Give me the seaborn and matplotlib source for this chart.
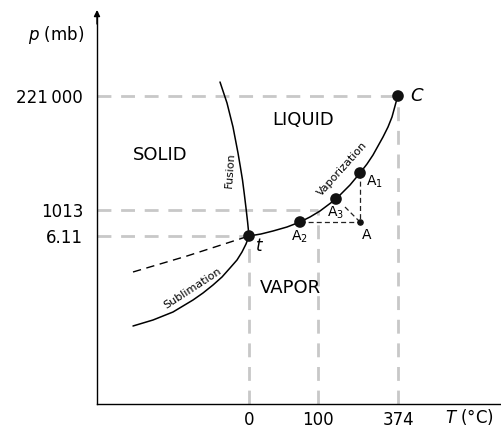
import matplotlib
matplotlib.use("Agg")
import matplotlib.pyplot as plt
import seaborn as sns
import pandas as pd

sns.set_style("white")
plt.rcParams['font.family'] = ['DejaVu Sans']
plt.rcParams['text.color'] = 'black'
plt.rcParams['xtick.color'] = 'black'
plt.rcParams['ytick.color'] = 'black'

# ---- schematic data (schematic units) ----
T_tick_pos = [152, 221, 301]
T_tick_labels = ["0", "100", "374"]
p_tick_pos = [168, 194, 308]
p_tick_labels = ["6.11", "1013", "221\u2009000"]

triple = (152, 168)
critical = (301, 308)

vap_x = [152, 164, 176, 190, 203, 213, 223, 231, 239, 246, 253, 258, 263, 270, 276, 281, 286, 291, 295, 298, 301]
vap_y = [168, 170, 173, 177, 182, 187, 193, 199, 205, 212, 219, 225, 231, 240, 249, 258, 267, 277, 287, 298, 309]

fus_x = [123, 126.5, 130, 133, 136, 138.5, 141, 143.3, 145.5, 147.3, 149, 150.6, 152]
fus_y = [322, 311.5, 301, 289, 277, 264, 251, 237.5, 224, 210, 196, 182, 168]

sub_x = [36, 46, 56, 66, 76, 86, 96, 106, 116, 125, 133, 140, 145, 149, 152]
sub_y = [78, 81, 84, 88, 92, 98, 104, 111, 119, 127, 136, 144, 152, 160, 168]

super_x = [36, 90, 152]
super_y = [132, 148, 168]

A_pts = {"A1": (263, 231), "A2": (203, 182), "A3": (239, 205)}
A_end = (263, 182)

fig = plt.figure(figsize=(5.01, 4.32), dpi=100)
ax = fig.add_axes([97/501, 28/432, 404/501, 392/432])
ax.set_xlim(0, 404)
ax.set_ylim(0, 392)

gray = "#c8c8c8"
dash_g = dict(color=gray, lw=2.0, dashes=(5, 3.5), zorder=1)
# gray guide lines
ax.plot([0, critical[0]], [p_tick_pos[2]]*2, **dash_g)
ax.plot([0, T_tick_pos[1]], [p_tick_pos[1]]*2, **dash_g)
ax.plot([0, triple[0]], [p_tick_pos[0]]*2, **dash_g)
ax.plot([T_tick_pos[0]]*2, [0, triple[1]], **dash_g)
ax.plot([T_tick_pos[1]]*2, [0, p_tick_pos[1]], **dash_g)
ax.plot([T_tick_pos[2]]*2, [0, critical[1]], **dash_g)

# curves
sns.lineplot(x=vap_x, y=vap_y, sort=False, color="black", lw=1.1, ax=ax, zorder=3)
sns.lineplot(x=fus_x, y=fus_y, sort=False, color="black", lw=1.1, ax=ax, zorder=3)
sns.lineplot(x=sub_x, y=sub_y, sort=False, color="black", lw=1.1, ax=ax, zorder=3)
ax.plot(super_x, super_y, color="black", lw=1.0, dashes=(6, 4), zorder=3)

# black dashed construction lines
dash_k = dict(color="#222222", lw=0.9, dashes=(4, 2.5), zorder=2)
ax.plot([A_pts["A2"][0], A_end[0]], [A_pts["A2"][1], A_end[1]], **dash_k)
ax.plot([A_pts["A1"][0], A_end[0]], [A_pts["A1"][1], A_end[1]], **dash_k)
ax.plot([248, A_end[0]], [197, A_end[1]], **dash_k)

# points
pts = pd.DataFrame({
    "x": [triple[0], critical[0]] + [v[0] for v in A_pts.values()],
    "y": [triple[1], critical[1]] + [v[1] for v in A_pts.values()],
})
sns.scatterplot(data=pts, x="x", y="y", s=70, color="#111111", edgecolor="none", ax=ax, zorder=5)
ax.scatter([A_end[0]], [A_end[1]], s=14, color="#111111", zorder=5)
ax.set_xlabel("")
ax.set_ylabel("")

# axes styling
for s in ["top", "right"]:
    ax.spines[s].set_visible(False)
for s in ["left", "bottom"]:
    ax.spines[s].set_linewidth(1.0)
    ax.spines[s].set_color("black")
ax.set_xticks(T_tick_pos, T_tick_labels, fontsize=12)
ax.set_yticks(p_tick_pos, p_tick_labels, fontsize=12)
ax.tick_params(axis="both", length=0, labelcolor="black")
ax.tick_params(axis="y", pad=10)
ax.tick_params(axis="x", pad=5)
ax.annotate("", xy=(0, 394), xytext=(0, 380),
            arrowprops=dict(arrowstyle="-|>", color="black", lw=1.0,
                            mutation_scale=9, shrinkA=0, shrinkB=0),
            annotation_clip=False)

ax.text(-13, 369, "$\\it{p}$ (mb)", ha="right", va="center", fontsize=12, clip_on=False)
ax.text(372, -13, "$\\it{T}$ (°C)", ha="center", va="center", fontsize=12, clip_on=False)

# region labels
ax.text(63, 249, "SOLID", ha="center", va="center", fontsize=13)
ax.text(206, 284, "LIQUID", ha="center", va="center", fontsize=13)
ax.text(193, 116, "VAPOR", ha="center", va="center", fontsize=13)

# curve labels
ax.text(133, 234, "Fusion", ha="center", va="center", fontsize=8, rotation=86)
ax.text(96, 116, "Sublimation", ha="center", va="center", fontsize=8, rotation=33)
ax.text(245, 235, "Vaporization", ha="center", va="center", fontsize=8, rotation=48)

# point labels
ax.text(162, 158, "t", ha="center", va="center", fontsize=12, style="italic")
ax.text(313, 308, "C", ha="left", va="center", fontsize=13, style="italic")
ax.text(269, 222, "A$_1$", ha="left", va="center", fontsize=10)
ax.text(230, 191, "A$_3$", ha="left", va="center", fontsize=10)
ax.text(194, 167, "A$_2$", ha="left", va="center", fontsize=10)
ax.text(270, 169, "A", ha="center", va="center", fontsize=10)

fig.savefig("out.png", dpi=100)
